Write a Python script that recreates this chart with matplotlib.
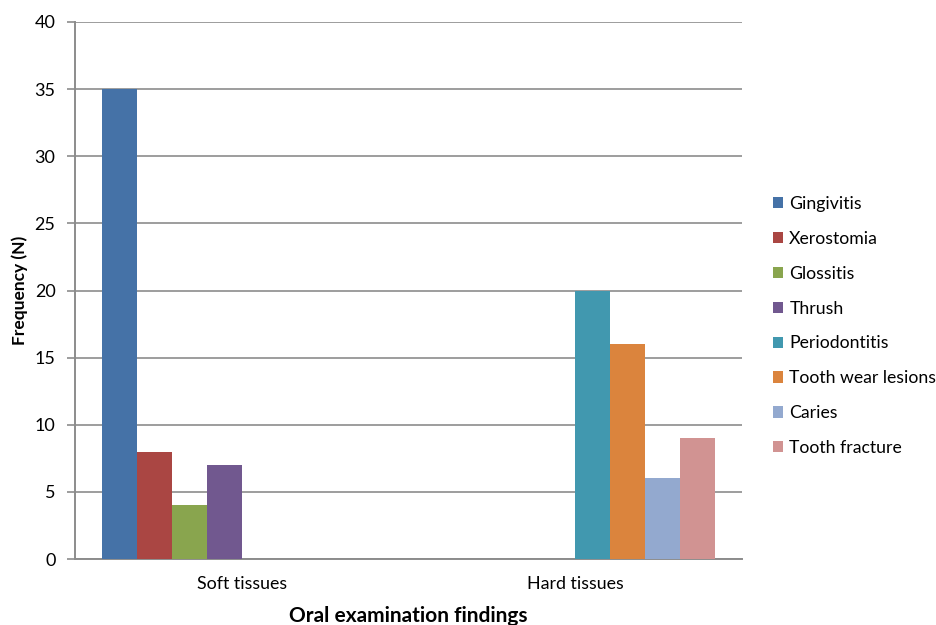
import numpy as np
import matplotlib
matplotlib.use("Agg")
import matplotlib.pyplot as plt

plt.rcParams['font.family'] = ['Lato', 'DejaVu Sans']

# oral examination counts per finding
categories = ['Soft tissues', 'Hard tissues']
findings = ['Gingivitis', 'Xerostomia', 'Glossitis', 'Thrush',
            'Periodontitis', 'Tooth wear lesions', 'Caries', 'Tooth fracture']
soft_counts = [35, 8, 4, 7, 0, 0, 0, 0]
hard_counts = [0, 0, 0, 0, 20, 16, 6, 9]
colors = ['#4572A7', '#AA4643', '#89A54E', '#71588F',
          '#4198AF', '#DB843D', '#93A9CF', '#D19392']
yticks = [0, 5, 10, 15, 20, 25, 30, 35, 40]

fig = plt.figure(figsize=(9.36, 6.25), dpi=100)
ax = fig.add_axes([0.0801, 0.1056, 0.7126, 0.8592])

x = np.arange(len(categories))
w = 0.1045
for i, name in enumerate(findings):
    vals = [soft_counts[i], hard_counts[i]]
    ax.bar(x + (i - 3.5) * w, vals, width=w, color=colors[i], label=name,
           edgecolor='none', zorder=3)

gc = '#8C8C8C'
ax.set_ylim(0, 40)
ax.set_xlim(-0.5, 1.5)
ax.set_yticks(yticks)
ax.yaxis.grid(True, color=gc, linewidth=1.2, zorder=0)
ax.set_axisbelow(True)
for s in ['top', 'right']:
    ax.spines[s].set_visible(False)
ax.spines['left'].set_color(gc)
ax.spines['bottom'].set_color(gc)
ax.spines['left'].set_linewidth(1.4)
ax.spines['bottom'].set_linewidth(1.4)
ax.tick_params(axis='y', length=6, width=1.2, color=gc, labelsize=13, pad=8)
ax.tick_params(axis='x', length=0, labelsize=12.8, pad=12)
ax.set_xticks(x)
ax.set_xticklabels(categories)

ax.set_ylabel('Frequency (N)', fontsize=12.5, fontweight='bold', labelpad=5)
ax.set_xlabel('Oral examination findings', fontsize=15, fontweight='bold', labelpad=10)

ax.legend(loc='center left', bbox_to_anchor=(1.03, 0.434), frameon=False,
          fontsize=12.7, handlelength=0.6, handleheight=0.6, handletextpad=0.35,
          labelspacing=1.07, borderaxespad=0.2)

plt.savefig('out.png', dpi=100)
